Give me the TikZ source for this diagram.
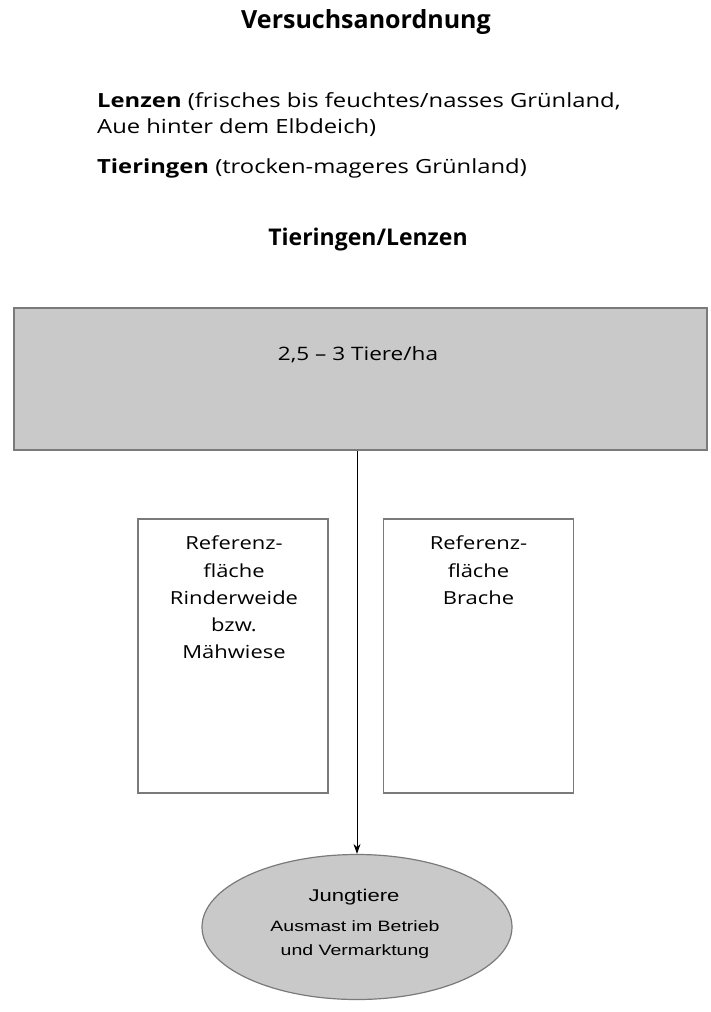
\documentclass[tikz,border=0pt]{standalone}
\usepackage{fontspec}
\setmainfont{Open Sans}
\newfontfamily\widefont{Open Sans}[FakeStretch=1.22]
\newfontfamily\arialfont{Liberation Sans}[FakeStretch=1.3]
\usetikzlibrary{shapes.geometric,arrows.meta}
\definecolor{boxgray}{HTML}{C9C9C9}
\definecolor{edgegray}{HTML}{7A7A7A}
\begin{document}
\begin{tikzpicture}[x=1pt,y=-1pt,
  txt/.style={inner sep=0pt,font=\widefont\fontsize{19.5}{26}\selectfont},
  refbox/.style={draw=edgegray,line width=1.2pt,fill=white,minimum width=190pt,minimum height=274pt,inner sep=0pt},
  reftext/.style={inner sep=0pt,align=center,font=\widefont\fontsize{18}{27.2}\selectfont,anchor=north},
  conn/.style={-{Stealth[length=10pt,width=7pt]},line width=1pt}]
\useasboundingbox (0,0) rectangle (710,1012);
\node[inner sep=0pt,font=\fontsize{25}{28}\selectfont\bfseries] (title) at (366,22) {Versuchsanordnung};
\node[txt,anchor=west] (l1) at (97,102) {\textbf{Lenzen} (frisches bis feuchtes/nasses Grünland,};
\node[txt,anchor=west] (l2) at (97,128) {Aue hinter dem Elbdeich)};
\node[txt,anchor=west] (l3) at (97,168) {\textbf{Tieringen} (trocken-mageres Grünland)};
\node[inner sep=0pt,font=\fontsize{23}{26}\selectfont\bfseries] (sub) at (368,240) {Tieringen/Lenzen};
\node[draw=edgegray,line width=1.5pt,fill=boxgray,minimum width=693pt,minimum height=142pt,inner sep=0pt] (top) at (360.5,379) {};
\node[inner sep=0pt,font=\widefont\fontsize{18.5}{22}\selectfont] (toptxt) at (358,355) {2,5 – 3 Tiere/ha};
\node[refbox] (left) at (233,656) {};
\node[refbox] (right) at (478.5,656) {};
\node[reftext] (lt) at (234,536) {Referenz-\\fläche\\Rinderweide\\bzw.\\Mähwiese};
\node[reftext] (rt) at (478.5,536) {Referenz-\\fläche\\Brache};
\node[ellipse,draw=edgegray,line width=1.2pt,fill=boxgray,minimum width=310pt,minimum height=145pt,inner sep=0pt] (ell) at (357,927) {};
\node[inner sep=0pt,font=\arialfont\fontsize{17}{20}\selectfont] (e1) at (354,897) {Jungtiere};
\node[inner sep=0pt,align=center,font=\arialfont\fontsize{15}{24}\selectfont] (e2) at (355,940) {Ausmast im Betrieb\\und Vermarktung};
\draw[conn] (top.south -| ell.north) -- (ell.north);
\end{tikzpicture}
\end{document}
